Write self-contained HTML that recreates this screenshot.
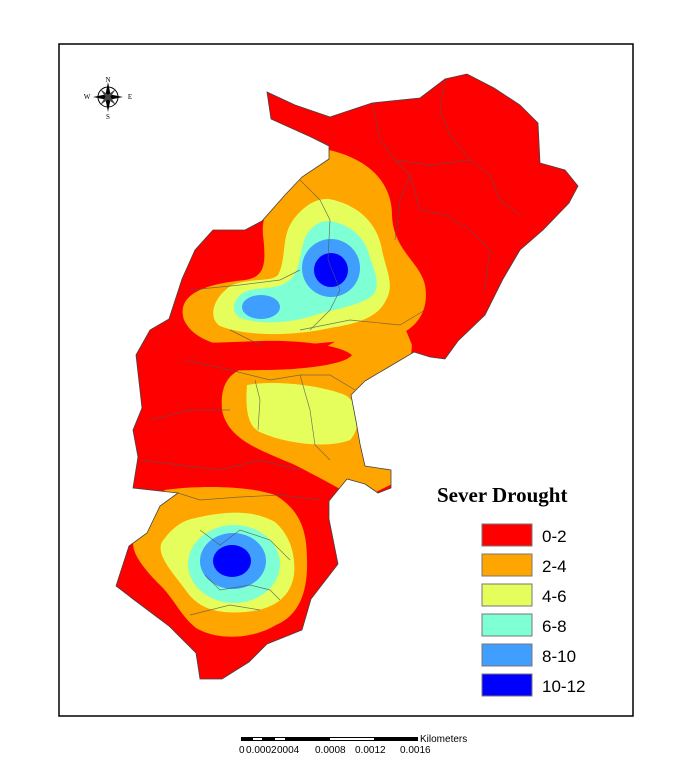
<!DOCTYPE html>
<html><head><meta charset="utf-8"><style>
body{margin:0;background:#fff;width:694px;height:777px;overflow:hidden}
svg{display:block}
</style></head><body>
<svg width="694" height="777" viewBox="0 0 694 777" xmlns="http://www.w3.org/2000/svg">
<rect x="0" y="0" width="694" height="777" fill="#fff"/>
<rect x="59" y="44" width="574" height="672" fill="none" stroke="#000" stroke-width="1.5"/>
<defs>
<clipPath id="st"><path id="sp" d="M267,92 L295,105 L330,117 L372,103 L420,98 L445,79 L467,74 L494,88 L520,105 L538,123 L540,163 L565,170 L578,186 L569,203 L543,230 L520,250 L503,279 L485,315 L458,341 L445,359 L430,357 L414,352 L387,368 L365,381 L351,395 L356,421 L360,444 L365,466 L391,470 L391,488 L378,493 L365,484 L347,479 L329,501 L329,519 L338,564 L311,599 L302,630 L267,644 L249,662 L222,679 L200,679 L196,653 L169,626 L133,599 L116,586 L129,546 L147,533 L160,506 L178,493 L133,488 L138,457 L133,430 L142,408 L136,355 L150,330 L169,319 L182,279 L195,250 L213,230 L245,230 L262,221 L285,195 L302,177 L329,159 L329,146 L311,137 L271,119 Z"/></clipPath>
</defs>
<use href="#sp" fill="#fe0000"/>
<g clip-path="url(#st)">
<path d="M329,150 C372,160 392,185 392,215 C393,250 420,262 425,285 C430,312 415,330 395,336 L300,345 C250,352 198,350 184,320 C176,294 205,284 245,280 C266,277 266,262 263,235 C260,205 290,155 329,150 Z" fill="#fea500"/>
<path d="M355,330 L405,328 L412,345 L400,480 L360,500 L320,478 L295,465 C260,450 228,440 222,410 C220,385 228,372 250,366 L300,362 Z" fill="#fea500"/>
<path d="M150,345 L262,341 C300,340 340,345 352,355 C345,365 300,370 262,370 L150,372 Z" fill="#fe0000"/>
<path d="M247,385 C275,380 320,385 345,395 C362,405 360,430 350,440 C330,448 290,445 262,433 C248,428 245,410 247,385 Z" fill="#e6fe5c"/>
<path d="M329,199 C360,205 378,225 382,250 C386,270 395,285 386,300 C378,318 356,324 330,328 C300,335 250,338 220,326 C208,318 212,298 232,285 C250,278 272,282 278,275 C286,260 282,240 290,225 C300,208 315,198 329,199 Z" fill="#e6fe5c"/>
<path d="M329,221 C352,224 366,240 369,255 C374,270 382,285 372,296 C360,305 340,308 315,315 C295,322 265,326 240,318 C228,310 235,294 250,290 C265,287 280,290 292,278 C302,265 300,245 307,234 C313,225 320,221 329,221 Z" fill="#7effd4"/>
<ellipse cx="331" cy="268" rx="29" ry="29" fill="#3f9efe"/>
<ellipse cx="261" cy="307" rx="19" ry="12" fill="#3f9efe"/>
<ellipse cx="331" cy="270" rx="17" ry="17" fill="#0000fe"/>
<path d="M165,490 C200,485 250,486 275,495 C300,510 307,530 307,560 C308,590 300,615 276,625 C255,638 220,642 196,628 C180,615 175,600 160,585 C140,565 125,545 138,533 C150,520 150,500 165,490 Z" fill="#fea500"/>
<path d="M191,519 C220,512 250,508 275,522 C290,535 296,555 294,575 C290,600 270,610 245,612 C220,614 200,610 187,592 C175,575 155,555 162,542 C170,530 180,522 191,519 Z" fill="#e6fe5c"/>
<ellipse cx="234" cy="564" rx="46" ry="39" fill="#7effd4"/>
<ellipse cx="233" cy="561" rx="33" ry="28" fill="#3f9efe"/>
<ellipse cx="232" cy="561" rx="19" ry="16" fill="#0000fe"/>
<g fill="none" stroke="#555" stroke-width="0.7" opacity="0.8">
<path d="M372,103 L380,140 L395,160 L410,175 L400,200 L395,240"/>
<path d="M445,79 L440,110 L450,135 L470,160 L490,175 L500,200 L520,215"/>
<path d="M395,160 L430,165 L470,160"/>
<path d="M410,175 L420,210 L445,215 L470,230 L490,250 L485,290"/>
<path d="M300,180 L320,200 L330,220 L328,260 L340,290 L330,310 L310,330"/>
<path d="M190,290 L240,285 L280,280 L300,270"/>
<path d="M300,330 L350,320 L400,325 L425,310"/>
<path d="M230,330 L250,340 L262,345"/>
<path d="M185,360 L230,370 L270,380 L300,375 L330,375 L355,390"/>
<path d="M300,375 L310,410 L315,445 L330,460"/>
<path d="M255,380 L260,400 L258,430"/>
<path d="M150,420 L190,410 L230,410"/>
<path d="M140,460 L180,465 L220,470 L260,460 L300,470"/>
<path d="M178,493 L200,500 L240,497 L280,495 L320,500"/>
<path d="M200,530 L220,545 L240,530 L270,540 L290,560"/>
<path d="M205,575 L220,590 L250,585 L270,590 L280,600"/>
<path d="M190,615 L230,605 L260,610"/>
</g>
</g>
<use href="#sp" fill="none" stroke="#444" stroke-width="0.8"/>
<g transform="translate(108,97)" font-family="Liberation Serif,serif" font-size="7" text-anchor="middle">
<circle r="10" fill="none" stroke="#000" stroke-width="1"/>
<path d="M0,-15 L3,0 L0,15 L-3,0 Z M-15,0 L0,-3 L15,0 L0,3 Z" fill="#000"/>
<path d="M-8,-8 L2,-1 L8,8 L-1,2 Z M8,-8 L1,2 L-8,8 L-2,-1 Z" fill="#444"/>
<text x="0" y="-15">N</text><text x="0" y="22">S</text><text x="-21" y="2">W</text><text x="22" y="2">E</text>
</g>
<text x="437" y="502" font-family="Liberation Serif,serif" font-weight="bold" font-size="21">Sever Drought</text>
<g stroke="#777" stroke-width="1">
<rect x="482" y="524" width="50" height="22" fill="#fe0000"/>
<rect x="482" y="554" width="50" height="22" fill="#fea500"/>
<rect x="482" y="584" width="50" height="22" fill="#e6fe5c"/>
<rect x="482" y="614" width="50" height="22" fill="#7effd4"/>
<rect x="482" y="644" width="50" height="22" fill="#3f9efe"/>
<rect x="482" y="674" width="50" height="22" fill="#0000fe"/>
</g>
<g font-family="Liberation Sans,sans-serif" font-size="17">
<text x="542" y="542">0-2</text><text x="542" y="572">2-4</text><text x="542" y="602">4-6</text>
<text x="542" y="632">6-8</text><text x="542" y="662">8-10</text><text x="542" y="692">10-12</text>
</g>
<rect x="241" y="737" width="177" height="4" fill="#000"/>
<rect x="253" y="738" width="9" height="2" fill="#fff"/>
<rect x="275" y="738" width="10" height="2" fill="#fff"/>
<rect x="330" y="738" width="44" height="2" fill="#fff"/>
<text x="420" y="742" font-family="Liberation Sans,sans-serif" font-size="10">Kilometers</text>
<g font-family="Liberation Sans,sans-serif" font-size="10">
<text x="239" y="753">0</text><text x="246" y="753">0.0002</text><text x="277" y="753">0004</text>
<text x="315" y="753">0.0008</text><text x="355" y="753">0.0012</text><text x="400" y="753">0.0016</text>
</g>
</svg>
</body></html>
